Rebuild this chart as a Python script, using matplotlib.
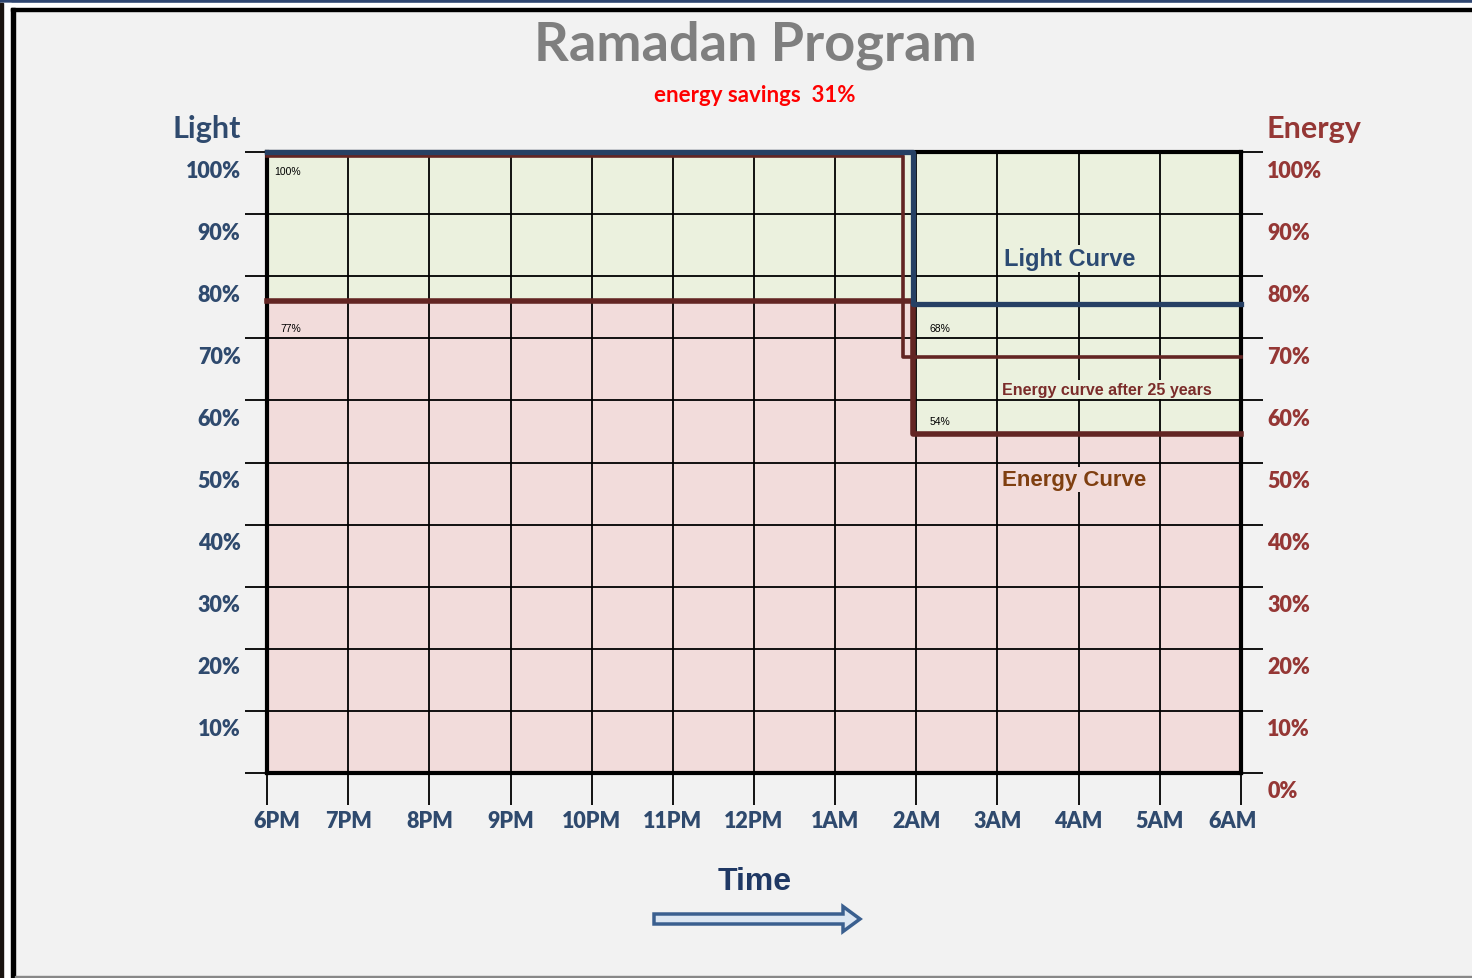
import matplotlib
matplotlib.use("Agg")
import matplotlib.pyplot as plt
import matplotlib.patches as mpatches
from matplotlib.transforms import ScaledTranslation

# hours after 6PM
hour_labels = ['6PM', '7PM', '8PM', '9PM', '10PM', '11PM', '12PM',
               '1AM', '2AM', '3AM', '4AM', '5AM', '6AM']
pct_levels = [0, 10, 20, 30, 40, 50, 60, 70, 80, 90, 100]

# curves (x in hours from 6PM, y in %)
light_x = [0, 7.96, 12]
light_y = [100, 75.6, 75.6]
energy_x = [0, 7.96, 12]
energy_y = [76, 54.6, 54.6]
aged_x = [0, 7.84, 12]
aged_y = [99.4, 67, 67]

# small value labels
value_labels = ['100%', '77%', '68%', '54%']
value_x = [0.09, 0.16, 8.16, 8.16]
value_y = [97, 71.7, 71.7, 56.7]

c_light = '#264064'
c_energy = '#632523'
c_axis_blue = '#2F4A6E'
c_axis_red = '#953735'
c_green = '#EBF1DE'
c_pink = '#F2DCDB'
bg = '#F2F2F2'

fig = plt.figure(figsize=(14.72, 9.79), dpi=100, facecolor=bg)
W, H = 1472, 979

# frame decoration around the slide
fig.patches.append(mpatches.Rectangle((0, 1 - 4 / H), 1, 4 / H, transform=fig.transFigure,
                                      color='#2E4570', zorder=0))
fig.patches.append(mpatches.Rectangle((0, 1 - 9 / H), 1, 5 / H, transform=fig.transFigure,
                                      color='white', zorder=0))
fig.patches.append(mpatches.Rectangle((0, 0), 11 / W, 1 - 4 / H, transform=fig.transFigure,
                                      color='white', zorder=0))
fig.patches.append(mpatches.Rectangle((0, 0), 3 / W, 1 - 4 / H, transform=fig.transFigure,
                                      color='#1a1410', zorder=0))
fig.patches.append(mpatches.Rectangle((11 / W, 1 - 12 / H), 1, 3 / H, transform=fig.transFigure,
                                      color='black', zorder=0))
fig.patches.append(mpatches.Rectangle((11 / W, 0), 4 / W, 1 - 9 / H, transform=fig.transFigure,
                                      color='black', zorder=0))
fig.patches.append(mpatches.Rectangle((15 / W, 0), 1, 2 / H, transform=fig.transFigure,
                                      color='#888888', zorder=0))

ax = fig.add_axes([267 / W, (H - 774) / H, (1241 - 267) / W, (774 - 153) / H])
ax.set_facecolor(bg)
ax.set_xlim(0, 12)
ax.set_ylim(0, 100)

# coloured regions above / below energy curve
ax.fill_between(energy_x, energy_y, 100, step='post', color=c_green, lw=0, zorder=0.5)
ax.fill_between(energy_x, 0, energy_y, step='post', color=c_pink, lw=0, zorder=0.5)

ax.set_axisbelow('line')
ax.grid(True, color='black', lw=1.3)

ax.plot(aged_x, aged_y, drawstyle='steps-post', color=c_energy, lw=2.6, clip_on=False, zorder=3)
ax.plot(energy_x, energy_y, drawstyle='steps-post', color=c_energy, lw=4, clip_on=False, zorder=3)
ax.plot(light_x, light_y, drawstyle='steps-post', color=c_light, lw=3.8, clip_on=False, zorder=4)

for s in ax.spines.values():
    s.set_linewidth(3)
    s.set_color('black')

ax.set_xticks(range(len(hour_labels)))
ax.set_xticklabels(hour_labels)
ax.set_yticks(pct_levels)
ax.set_yticklabels([''] + [f'{v}%' for v in pct_levels[1:]])
ax.tick_params(axis='x', length=23, width=1.3, pad=4, labelsize=15.5, labelcolor=c_axis_blue)
ax.tick_params(axis='y', length=16, width=1.3, pad=3, labelsize=15.5, labelcolor=c_axis_blue)
for lab in ax.get_xticklabels() + ax.get_yticklabels():
    lab.set_fontfamily('Lato')
    lab.set_fontweight('heavy')

ax2 = ax.twinx()
ax2.set_ylim(0, 100)
ax2.set_yticks(pct_levels)
ax2.set_yticklabels([f'{v}%' for v in pct_levels])
ax2.tick_params(axis='y', length=16, width=1.3, pad=3, labelsize=15.5, labelcolor=c_axis_red)
for s in ax2.spines.values():
    s.set_visible(False)
for lab in ax2.get_yticklabels():
    lab.set_fontfamily('Lato')
    lab.set_fontweight('heavy')

# y labels sit a bit below their grid lines
shift = ScaledTranslation(0, -16 / 100, fig.dpi_scale_trans)
for lab in ax.get_yticklabels() + ax2.get_yticklabels():
    lab.set_transform(lab.get_transform() + shift)
xl = ax.get_xticklabels()
xl[0].set_transform(xl[0].get_transform() + ScaledTranslation(10 / 100, 0, fig.dpi_scale_trans))
xl[-1].set_transform(xl[-1].get_transform() + ScaledTranslation(-8 / 100, 0, fig.dpi_scale_trans))

# value labels
for t, x, y in zip(value_labels, value_x, value_y):
    ax.text(x, y, t, fontsize=7.5, family='Liberation Sans', ha='left', va='center',
            color='black', zorder=5)

ax.text(9.89, 82.8, 'Light Curve', fontsize=17, family='Liberation Sans', weight='bold',
        color='#2B4A72', ha='center', va='center', zorder=5,
        bbox=dict(facecolor=c_green, edgecolor='none', pad=1.5))
ax.text(10.35, 61.8, 'Energy curve after 25 years', fontsize=11.5, family='Liberation Sans',
        weight='bold', color='#7B2C2A', ha='center', va='center', zorder=5,
        bbox=dict(facecolor=c_green, edgecolor='none', pad=1.5))
ax.text(9.95, 47.2, 'Energy Curve', fontsize=16, family='Liberation Sans', weight='bold',
        color='#7F3F10', ha='center', va='center', zorder=5,
        bbox=dict(facecolor=c_pink, edgecolor='none', pad=1.5))

# titles
fig.text(755 / W, 1 - 45 / H, 'Ramadan Program', fontsize=39, family='Lato', weight='bold',
         color='#7F7F7F', ha='center', va='center')
fig.text(755 / W, 1 - 96 / H, 'energy savings  31%', fontsize=16, family='Lato', weight='bold',
         color='#FF0000', ha='center', va='center')
fig.text(207 / W, 1 - 129 / H, 'Light', fontsize=22, family='Lato', weight='bold',
         color=c_axis_blue, ha='center', va='center')
fig.text(1314 / W, 1 - 129 / H, 'Energy', fontsize=22, family='Lato', weight='bold',
         color=c_axis_red, ha='center', va='center')
fig.text(755 / W, 1 - 882 / H, 'Time', fontsize=23, family='Liberation Sans', weight='bold',
         color='#1F3864', ha='center', va='center')

arrow = mpatches.FancyArrow(6.54, 0.59, 2.06, 0, width=0.10, head_width=0.25,
                            head_length=0.17, length_includes_head=True,
                            transform=fig.dpi_scale_trans, facecolor='#DCE6F2',
                            edgecolor='#3A5F8F', lw=2.5)
fig.patches.append(arrow)

fig.savefig('out.png', dpi=100, facecolor=bg)
